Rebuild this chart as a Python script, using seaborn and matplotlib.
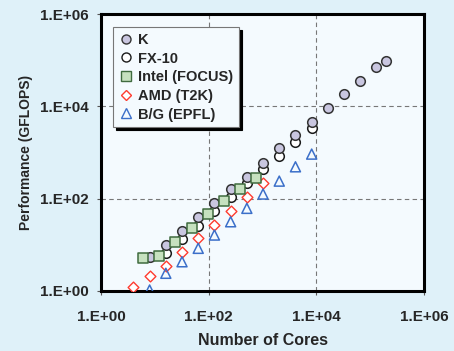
import matplotlib
matplotlib.use("Agg")
import matplotlib.pyplot as plt
import seaborn as sns
import pandas as pd
from matplotlib.lines import Line2D

# ---- data ----
k_cores = [8, 16, 32, 64, 128, 256, 512, 1024, 2048, 4096, 8192, 16384, 32768, 65536, 131072, 196608]
k_perf = [5.5, 9.9, 20.2, 39.4, 79, 159, 298, 598, 1227, 2345, 4620, 9010, 18100, 35600, 70500, 95000]

fx_cores = [16, 32, 64, 128, 256, 512, 1024, 2048, 4096, 8192]
fx_perf = [6.8, 13.5, 25.9, 54.8, 107, 219, 442, 860, 1670, 3313]

intel_cores = [6, 12, 24, 48, 96, 192, 384, 768]
intel_perf = [5.1, 5.8, 11.3, 22.8, 45.7, 88.7, 159, 283]

amd_cores = [4, 8, 16, 32, 64, 128, 256, 512, 1024]
amd_perf = [1.24, 2.14, 3.53, 6.88, 13.8, 26.9, 55, 107, 219]

bg_cores = [8, 16, 32, 64, 128, 256, 512, 1024, 2048, 4096, 8192]
bg_perf = [1.05, 2.42, 4.3, 8.4, 16.3, 31.6, 61.7, 126, 240, 490, 923]

labels = ["K", "FX-10", "Intel (FOCUS)", "AMD (T2K)", "B/G (EPFL)"]
x_ticks = [1, 1e2, 1e4, 1e6]
x_ticklabels = ["1.E+00", "1.E+02", "1.E+04", "1.E+06"]
y_ticks = [1, 1e2, 1e4, 1e6]
y_ticklabels = ["1.E+00", "1.E+02", "1.E+04", "1.E+06"]

# ---- style ----
sns.set_theme(style="white")
plt.rcParams["font.family"] = ["Liberation Sans", "DejaVu Sans"]
plt.rcParams["font.weight"] = "bold"

fig = plt.figure(figsize=(4.54, 3.51), dpi=100)
fig.patch.set_facecolor("#dff1f9")
ax = fig.add_axes([101 / 454, 1 - 291 / 351, 323 / 454, 277 / 351])
ax.set_facecolor("#f4fafe")

series = [
    (fx_cores, fx_perf, dict(marker="o", color="white", edgecolor="#1a1a1a", s=48, linewidth=1.1), 2),
    (k_cores, k_perf, dict(marker="o", color="#c9c6e0", edgecolor="#333333", s=48, linewidth=1.1), 3),
    (amd_cores, amd_perf, dict(marker="D", color="white", edgecolor="#ff3b2f", s=30, linewidth=1.0), 3),
    (bg_cores, bg_perf, dict(marker="^", color="none", edgecolor="#3b6fc9", s=52, linewidth=1.1), 3),
    (intel_cores, intel_perf, dict(marker="s", color="#c6e1bf", edgecolor="#3f6b3f", s=48, linewidth=1.1), 4),
]
for xs, ys, kw, z in series:
    df = pd.DataFrame({"cores": xs, "perf": ys})
    sns.scatterplot(data=df, x="cores", y="perf", ax=ax, zorder=z, legend=False, **kw)

ax.set_xscale("log")
ax.set_yscale("log")
ax.set_xlim(1, 1e6)
ax.set_ylim(1, 1e6)
ax.set_xticks(x_ticks)
ax.set_xticklabels(x_ticklabels)
ax.set_yticks(y_ticks)
ax.set_yticklabels(y_ticklabels)
ax.minorticks_off()
ax.tick_params(axis="both", which="major", direction="out", length=3, width=0.8,
               color="#555555", labelsize=11, bottom=True, left=True)
ax.xaxis.set_tick_params(pad=11)
ax.yaxis.set_tick_params(pad=6)
for lbl in ax.get_xticklabels() + ax.get_yticklabels():
    lbl.set_fontweight("bold")

ax.grid(True, which="major", linestyle=(0, (4, 3)), color="#777777", linewidth=0.8)
for sp in ax.spines.values():
    sp.set_visible(True)
    sp.set_color("black")
    sp.set_linewidth(2.2)

ax.set_xlabel("Number of Cores", fontsize=11.5, fontweight="bold", labelpad=6)
ax.set_ylabel("Performance (GFLOPS)", fontsize=10, fontweight="bold", labelpad=5)

handles = [
    Line2D([], [], linestyle="none", marker="o", markerfacecolor="#c9c6e0", markeredgecolor="#333333", markersize=6.5),
    Line2D([], [], linestyle="none", marker="o", markerfacecolor="white", markeredgecolor="#1a1a1a", markersize=6.5),
    Line2D([], [], linestyle="none", marker="s", markerfacecolor="#c6e1bf", markeredgecolor="#3f6b3f", markersize=6.5),
    Line2D([], [], linestyle="none", marker="D", markerfacecolor="white", markeredgecolor="#ff3b2f", markersize=5.5),
    Line2D([], [], linestyle="none", marker="^", markerfacecolor="none", markeredgecolor="#3b6fc9", markersize=7),
]
leg = ax.legend(handles, labels, loc="upper left", bbox_to_anchor=(0.037, 0.953),
                borderaxespad=0,
                frameon=True, fancybox=False, shadow={"color": "black", "alpha": 1},
                borderpad=0.4, labelspacing=0.32, handlelength=1.0, handletextpad=0.35,
                prop={"weight": "bold", "size": 10.5})
leg.get_frame().set_edgecolor("#777777")
leg.get_frame().set_linewidth(0.8)
leg.get_frame().set_facecolor("#f4fafe")
leg.set_zorder(10)

fig.savefig("out.png", dpi=100, facecolor=fig.get_facecolor())
